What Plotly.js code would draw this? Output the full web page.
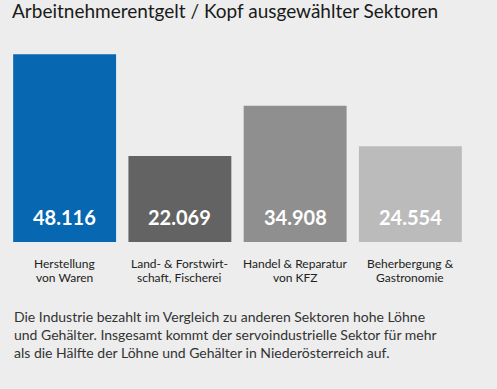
<!DOCTYPE html>
<html>
<head>
<meta charset="utf-8">
<script src="https://cdn.plot.ly/plotly-3.0.1.min.js"></script>
<style>
html,body{margin:0;padding:0;background:#ecedec;}
#chart{width:497px;height:389px;}
</style>
</head>
<body>
<div id="chart"></div>
<script>
const categories = ["Herstellung<br>von Waren", "Land- & Forstwirt-<br>schaft, Fischerei", "Handel & Reparatur<br>von KFZ", "Beherbergung &<br>Gastronomie"];
const values = [48116, 22069, 34908, 24554];
const valueLabels = ["48.116", "22.069", "34.908", "24.554"];
const barColors = ["#0767b1", "#636363", "#8f8f8f", "#bbbbbb"];
const titleText = "Arbeitnehmerentgelt / Kopf ausgewählter Sektoren";
const noteText = "Die Industrie bezahlt im Vergleich zu anderen Sektoren hohe Löhne<br>und Gehälter. Insgesamt kommt der servoindustrielle Sektor für mehr<br>als die Hälfte der Löhne und Gehälter in Niederösterreich auf.";

const trace = {
  type: "bar",
  x: categories,
  y: values,
  marker: {color: barColors, line: {width: 0}},
  hoverinfo: "skip",
  textposition: "none"
};

const font = "Lato, sans-serif";
const annotations = [];
categories.forEach((c, i) => {
  annotations.push({
    x: c, y: 0, xref: "x", yref: "y",
    text: valueLabels[i], showarrow: false,
    yanchor: "middle", yshift: 25,
    font: {family: font, size: 20, color: "#ffffff", weight: "bold"}
  });
  c.split("<br>").forEach((line, j) => {
    annotations.push({
      x: c, y: 0, xref: "x", yref: "y",
      text: line, showarrow: false,
      yanchor: "middle", yshift: -21 - 14 * j,
      font: {family: font, size: 12, color: "#222222"}
    });
  });
});
annotations.push({
  xref: "paper", yref: "paper", x: 0, y: 0,
  xanchor: "left", yanchor: "top", align: "left",
  xshift: 5, yshift: -64,
  text: noteText, showarrow: false,
  font: {family: font, size: 14, color: "#333333"}
});

const layout = {
  width: 497, height: 389,
  paper_bgcolor: "#ecedec", plot_bgcolor: "#ecedec",
  margin: {l: 7, r: 29, t: 47, b: 147},
  bargap: 0.107,
  showlegend: false,
  title: {text: titleText, x: 0, xref: "paper", xanchor: "left", y: 1, yref: "container", yanchor: "top", pad: {t: 5, l: 5},
          font: {family: font, size: 19, color: "#1a1a1a"}},
  xaxis: {showgrid: false, zeroline: false, showline: false, ticks: "", showticklabels: false, fixedrange: true},
  yaxis: {range: [0, 50000], visible: false, fixedrange: true},
  annotations: annotations
};

Plotly.newPlot("chart", [trace], layout, {displayModeBar: false, staticPlot: true});
</script>
</body>
</html>
